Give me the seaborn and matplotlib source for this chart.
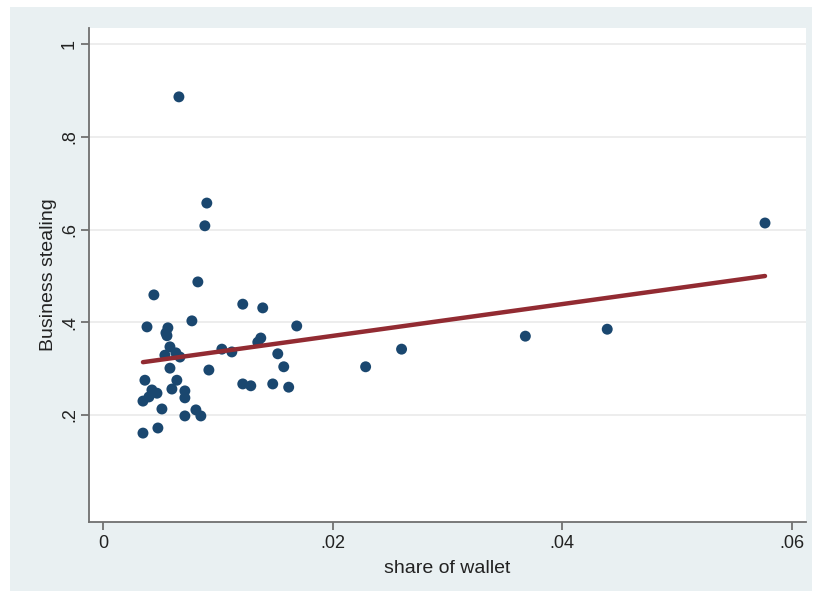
import numpy as np
import pandas as pd
import matplotlib
matplotlib.use("Agg")
import matplotlib.pyplot as plt
import seaborn as sns
from matplotlib.patches import Rectangle

# Observations: share of wallet vs. business stealing
share_of_wallet = [
    0.00348, 0.00383, 0.00443, 0.00365, 0.00348, 0.00400, 0.00426, 0.00470,
    0.00478, 0.00513, 0.00539, 0.00548, 0.00565, 0.00557, 0.00583, 0.00583,
    0.00600, 0.00643, 0.00635, 0.00670, 0.00661, 0.00713, 0.00713, 0.00713,
    0.00774, 0.00809, 0.00826, 0.00852, 0.00887, 0.00904, 0.00922, 0.01035,
    0.01122, 0.01217, 0.01217, 0.01287, 0.01348, 0.01374, 0.01391, 0.01478,
    0.01522, 0.01574, 0.01617, 0.01687, 0.02287, 0.02600, 0.03678, 0.04391,
    0.05765,
]
business_stealing = [
    0.161, 0.390, 0.459, 0.275, 0.230, 0.239, 0.254, 0.247,
    0.172, 0.213, 0.329, 0.377, 0.388, 0.371, 0.347, 0.301,
    0.256, 0.275, 0.334, 0.325, 0.886, 0.252, 0.237, 0.198,
    0.403, 0.211, 0.487, 0.198, 0.608, 0.657, 0.297, 0.342,
    0.336, 0.439, 0.267, 0.263, 0.357, 0.366, 0.431, 0.267,
    0.332, 0.304, 0.260, 0.392, 0.304, 0.342, 0.370, 0.385,
    0.614,
]

# Linear fit drawn over the observed range
fit_intercept = 0.302
fit_slope = 3.43

x_ticks = [0, 0.02, 0.04, 0.06]
x_tick_labels = ["0", ".02", ".04", ".06"]
y_ticks = [0.2, 0.4, 0.6, 0.8, 1.0]
y_tick_labels = [".2", ".4", ".6", ".8", "1"]

df = pd.DataFrame({"share": share_of_wallet, "stealing": business_stealing})
fit_x = np.array([min(share_of_wallet), max(share_of_wallet)])
fit_df = pd.DataFrame({"share": fit_x, "stealing": fit_intercept + fit_slope * fit_x})

sns.set_theme(style="white")
plt.rcParams["font.family"] = ["Liberation Sans", "DejaVu Sans"]

W, H = 814, 597
fig = plt.figure(figsize=(W / 100, H / 100), dpi=100, facecolor="white")
fig.patches.append(Rectangle((10 / W, 6 / H), 802 / W, 584 / H,
                             transform=fig.transFigure, facecolor="#e9f0f2",
                             edgecolor="none", zorder=-10))

ax = fig.add_axes([89 / W, (H - 522) / H, 717 / W, 494 / H])
ax.set_zorder(5)
ax.set_facecolor("white")

navy = "#1a476f"
maroon = "#922b32"

sns.scatterplot(data=df, x="share", y="stealing", ax=ax, color=navy,
                s=62, edgecolor="none", linewidth=0, zorder=3)
sns.lineplot(data=fit_df, x="share", y="stealing", ax=ax, color=maroon,
             linewidth=3.2, zorder=4)

ax.set_xlim(-0.00122, 0.06122)
ax.set_ylim(-0.0307, 1.0345)

ax.set_xticks(x_ticks)
ax.set_xticklabels(x_tick_labels)
ax.set_yticks(y_ticks)
ax.set_yticklabels(y_tick_labels, rotation=90, va="center")

for t in y_ticks:
    ax.axhline(t, color="#eaeaea", linewidth=1.2, zorder=1)

for side in ["top", "right"]:
    ax.spines[side].set_visible(False)
for side in ["left", "bottom"]:
    ax.spines[side].set_color("#707070")
    ax.spines[side].set_linewidth(1.3)

ax.tick_params(axis="x", which="major", direction="out", length=6,
               width=1.3, color="#707070", labelsize=13, labelcolor="#222222",
               pad=3, bottom=True)
ax.tick_params(axis="y", which="major", direction="out", length=6,
               width=1.3, color="#707070", labelsize=13, labelcolor="#222222",
               pad=2, left=True)

ax.set_xlabel("share of wallet", fontsize=14, color="#222222", labelpad=6)
ax.set_ylabel("Business stealing", fontsize=14, color="#222222", labelpad=3)

fig.savefig("out.png", dpi=100, facecolor="white")
